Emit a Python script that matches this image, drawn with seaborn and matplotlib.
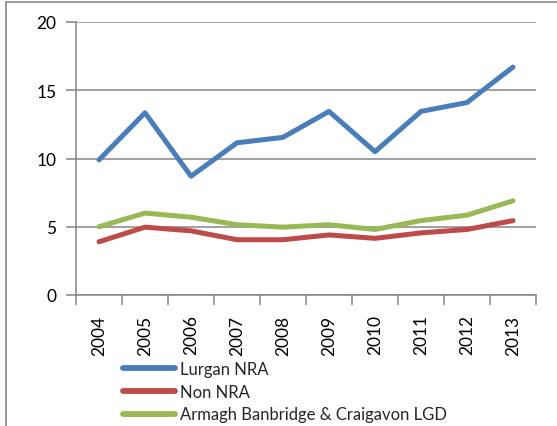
import pandas as pd
import numpy as np
import seaborn as sns
import matplotlib.pyplot as plt
from matplotlib.lines import Line2D

## Data
years = ['2004', '2005', '2006', '2007', '2008', '2009', '2010', '2011', '2012', '2013']
lurgan = [9.9, 13.35, 8.7, 11.15, 11.55, 13.45, 10.5, 13.45, 14.1, 16.7]
non_nra = [3.9, 4.97, 4.7, 4.05, 4.05, 4.4, 4.15, 4.55, 4.8, 5.45]
abc_lgd = [5.0, 6.0, 5.7, 5.15, 4.97, 5.15, 4.8, 5.45, 5.85, 6.9]

series_names = ['Lurgan NRA', 'Non NRA', 'Armagh Banbridge & Craigavon LGD']
colors = ['#4A7EBB', '#BE4B48', '#98B954']

df = pd.DataFrame({
    'year': years * 3,
    'value': lurgan + non_nra + abc_lgd,
    'series': [series_names[0]] * 10 + [series_names[1]] * 10 + [series_names[2]] * 10,
})

sns.set_style('white')
plt.rcParams['font.family'] = ['Lato', 'DejaVu Sans']
plt.rcParams['lines.solid_capstyle'] = 'round'

grid_col = '#868686'

fig = plt.figure(figsize=(5.57, 4.27), dpi=100)
ax = fig.add_axes([76 / 557, 1 - 296 / 427, 460 / 557, 273 / 427])

sns.lineplot(data=df, x='year', y='value', hue='series', palette=colors,
             linewidth=3.6, sort=False, legend=False, ax=ax)

ax.set_xlim(-0.5, 9.5)
ax.set_ylim(0, 20)
ax.set_yticks([0, 5, 10, 15, 20])
ax.set_xlabel('')
ax.set_ylabel('')

# gridlines
ax.yaxis.grid(True, color=grid_col, linewidth=1.1)
ax.xaxis.grid(False)
ax.set_axisbelow(True)

for s in ['top', 'right']:
    ax.spines[s].set_visible(False)
for s in ['left', 'bottom']:
    ax.spines[s].set_color(grid_col)
    ax.spines[s].set_linewidth(1.1)

# tick marks between categories
ax.set_xticks(range(10))
ax.set_xticklabels(years, rotation=90)
ax.set_xticks(np.arange(-0.5, 10, 1), minor=True)
ax.tick_params(axis='x', which='major', length=0, pad=14, labelsize=12.5, labelcolor='black')
ax.tick_params(axis='x', which='minor', length=7, width=1.1, color=grid_col, direction='out', bottom=True)
ax.tick_params(axis='y', which='major', length=7, width=1.1, color=grid_col, direction='out',
               left=True, pad=7, labelsize=12.5, labelcolor='black')

# legend below the axes
handles = [Line2D([], [], color=c, linewidth=4.2) for c in colors]
fig.legend(handles, series_names, loc='upper left', bbox_to_anchor=(123 / 557, 1 - 362 / 427),
           frameon=False, fontsize=12, handlelength=3.1, handletextpad=0.3,
           labelspacing=0.4, borderpad=0, borderaxespad=0)

# outer chart border (left and top)
fig.add_artist(Line2D([6 / 557, 6 / 557], [0, 1 - 3 / 427], color=grid_col, linewidth=1.2,
                      transform=fig.transFigure))
fig.add_artist(Line2D([6 / 557, 1], [1 - 3 / 427, 1 - 3 / 427], color=grid_col, linewidth=1.2,
                      transform=fig.transFigure))

fig.savefig('out.png', dpi=100)
